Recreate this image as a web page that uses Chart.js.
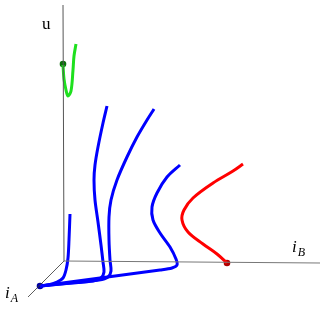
<!DOCTYPE html>
<html>
<head>
<meta charset="utf-8">
<script src="https://cdn.jsdelivr.net/npm/chart.js@4"></script>
<style>
  html, body { margin: 0; padding: 0; background: #ffffff; }
  #wrap { width: 327px; height: 311px; position: relative; }
</style>
</head>
<body>
<div id="wrap"><canvas id="chart"></canvas></div>
<script>
// Projected 3D view: x = screen column, y = screen row
const U_AXIS = [{ x: 63, y: 5 }, { x: 64, y: 261 }];
const IB_AXIS = [{ x: 64, y: 261 }, { x: 320, y: 263 }];
const IA_AXIS = [{ x: 64, y: 261 }, { x: 28, y: 297 }];

const GREEN_CURVE = [
  { x: 63, y: 65 }, { x: 64, y: 79 }, { x: 66, y: 90 }, { x: 68, y: 96 },
  { x: 71, y: 91 }, { x: 73, y: 70 }, { x: 74, y: 56 }, { x: 76, y: 44 },
];
const BLUE_CURVE_1 = [
  { x: 70, y: 214 }, { x: 69, y: 240 }, { x: 68, y: 258 }, { x: 66, y: 270 },
  { x: 63, y: 278 }, { x: 57, y: 282 }, { x: 48, y: 285 }, { x: 40, y: 286 },
];
const BLUE_CURVE_2 = [
  { x: 107, y: 106 }, { x: 103, y: 123 }, { x: 98, y: 147 }, { x: 95, y: 165 },
  { x: 94, y: 180 }, { x: 95, y: 200 }, { x: 98, y: 222 }, { x: 101, y: 245 },
  { x: 103, y: 262 }, { x: 104, y: 272 }, { x: 101, y: 278 }, { x: 93, y: 281 },
  { x: 70, y: 283 }, { x: 40, y: 286 },
];
const BLUE_CURVE_3 = [
  { x: 154, y: 109 }, { x: 147, y: 120 }, { x: 137, y: 137 }, { x: 127, y: 157 },
  { x: 117, y: 180 }, { x: 111, y: 200 }, { x: 109, y: 217 }, { x: 109, y: 240 },
  { x: 110, y: 260 }, { x: 111, y: 271 }, { x: 108, y: 277 }, { x: 99, y: 280 },
  { x: 72, y: 283 }, { x: 40, y: 286 },
];
const BLUE_CURVE_4 = [
  { x: 180, y: 165 }, { x: 167, y: 177 }, { x: 157, y: 193 }, { x: 152, y: 207 },
  { x: 153, y: 220 }, { x: 160, y: 233 }, { x: 170, y: 247 }, { x: 176, y: 259 },
  { x: 177, y: 265 }, { x: 172, y: 268 }, { x: 160, y: 270 }, { x: 100, y: 278 },
  { x: 40, y: 286 },
];
const RED_CURVE = [
  { x: 243, y: 164 }, { x: 233, y: 171 }, { x: 213, y: 183 }, { x: 193, y: 198 },
  { x: 184, y: 210 }, { x: 182, y: 220 }, { x: 188, y: 232 }, { x: 203, y: 244 },
  { x: 217, y: 254 }, { x: 227, y: 263 },
];

const GREEN_POINT = [{ x: 63, y: 64 }];
const BLUE_POINT = [{ x: 40, y: 286 }];
const RED_POINT = [{ x: 227, y: 263 }];

const AXIS_LABELS = [
  { text: 'u', sub: '', x: 42, y: 29, italic: false },
  { text: 'i', sub: 'B', x: 292, y: 252, italic: true },
  { text: 'i', sub: 'A', x: 5, y: 298, italic: true },
];

function lineSet(data, color, width, tension) {
  return {
    data: data,
    showLine: true,
    borderColor: color,
    borderWidth: width,
    pointRadius: 0,
    tension: tension,
    fill: false,
  };
}

function pointSet(data, color) {
  return {
    data: data,
    showLine: false,
    pointRadius: 3.3,
    pointBackgroundColor: color,
    pointBorderColor: color,
    pointBorderWidth: 0,
  };
}

const labelPlugin = {
  id: 'axisLabels',
  afterDatasetsDraw(chart) {
    const ctx = chart.ctx;
    const xs = chart.scales.x;
    const ys = chart.scales.y;
    ctx.save();
    ctx.fillStyle = '#000000';
    ctx.textBaseline = 'alphabetic';
    AXIS_LABELS.forEach((label) => {
      const px = xs.getPixelForValue(label.x);
      const py = ys.getPixelForValue(label.y);
      ctx.font = (label.italic ? 'italic ' : '') + '17px "Liberation Serif", "DejaVu Serif", serif';
      ctx.fillText(label.text, px, py);
      if (label.sub) {
        const w = ctx.measureText(label.text).width;
        ctx.font = 'italic 12px "Liberation Serif", "DejaVu Serif", serif';
        ctx.fillText(label.sub, px + w + 1, py + 4);
      }
    });
    ctx.restore();
  },
};

new Chart(document.getElementById('chart'), {
  type: 'scatter',
  data: {
    datasets: [
      lineSet(U_AXIS, '#555555', 1, 0),
      lineSet(IB_AXIS, '#777777', 1, 0),
      lineSet(IA_AXIS, '#333333', 0.8, 0),
      lineSet(GREEN_CURVE, '#1ee01e', 3, 0.35),
      lineSet(BLUE_CURVE_1, '#0000ff', 3, 0.3),
      lineSet(BLUE_CURVE_2, '#0000ff', 3, 0.3),
      lineSet(BLUE_CURVE_3, '#0000ff', 3, 0.3),
      lineSet(BLUE_CURVE_4, '#0000ff', 3, 0.3),
      lineSet(RED_CURVE, '#ff0000', 3, 0.35),
      pointSet(GREEN_POINT, '#0a6e0a'),
      pointSet(BLUE_POINT, '#0000a0'),
      pointSet(RED_POINT, '#b00000'),
    ],
  },
  options: {
    animation: false,
    responsive: true,
    maintainAspectRatio: false,
    layout: { padding: 0, autoPadding: false },
    plugins: {
      legend: { display: false },
      tooltip: { enabled: false },
    },
    scales: {
      x: { type: 'linear', min: 0, max: 327, display: false },
      y: { type: 'linear', min: 0, max: 311, reverse: true, display: false },
    },
  },
  plugins: [labelPlugin],
});
</script>
</body>
</html>
